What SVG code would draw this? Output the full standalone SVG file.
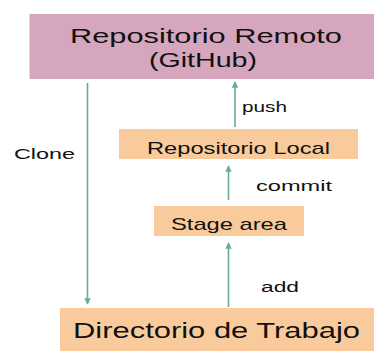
<svg xmlns="http://www.w3.org/2000/svg" width="374" height="351" viewBox="0 0 374 351">
<style>
.t{font-family:"Liberation Sans",Arial,sans-serif;fill:#111;}
.c{stroke:#6aae88;stroke-width:1.6;fill:none;}
.pink{fill:#d5a6bd;}
.org{fill:#f9cb9c;}
</style>
<defs>
<marker id="ah" viewBox="0 0 10 10" refX="9" refY="5" markerWidth="4" markerHeight="4" orient="auto" markerUnits="strokeWidth">
<path d="M0,0 L10,5 L0,10 z" fill="#6aae88"/>
</marker>
</defs>
<rect width="374" height="351" fill="#fff"/>
<g id="remoto">
<rect class="pink" x="29.5" y="14" width="344.5" height="65"/>
<text class="t" x="70" y="42.5" font-size="19.5" textLength="272" lengthAdjust="spacingAndGlyphs">Repositorio Remoto</text>
<text class="t" x="149" y="67" font-size="19.5" textLength="108" lengthAdjust="spacingAndGlyphs">(GitHub)</text>
</g>
<g id="local">
<rect class="org" x="119" y="129" width="239" height="30"/>
<text class="t" x="147" y="154" font-size="17" textLength="183" lengthAdjust="spacingAndGlyphs">Repositorio Local</text>
</g>
<g id="stage">
<rect class="org" x="154" y="206" width="150" height="30"/>
<text class="t" x="171" y="230" font-size="17" textLength="116" lengthAdjust="spacingAndGlyphs">Stage area</text>
</g>
<g id="trabajo">
<rect class="org" x="60" y="308" width="314" height="43"/>
<text class="t" x="73" y="337.5" font-size="21.5" textLength="287" lengthAdjust="spacingAndGlyphs">Directorio de Trabajo</text>
</g>
<g id="connectors">
<line class="c" x1="87.5" y1="83" x2="87.5" y2="304" marker-end="url(#ah)"/>
<line class="c" x1="235" y1="127" x2="235" y2="82" marker-end="url(#ah)"/>
<line class="c" x1="228.5" y1="200" x2="228.5" y2="166" marker-end="url(#ah)"/>
<line class="c" x1="228.5" y1="307" x2="228.5" y2="243" marker-end="url(#ah)"/>
<text class="t" x="14" y="159" font-size="15.5" textLength="61" lengthAdjust="spacingAndGlyphs">Clone</text>
<text class="t" x="242" y="111.5" font-size="15.5" textLength="45" lengthAdjust="spacingAndGlyphs">push</text>
<text class="t" x="256" y="191" font-size="15.5" textLength="76" lengthAdjust="spacingAndGlyphs">commit</text>
<text class="t" x="261" y="292" font-size="15.5" textLength="38" lengthAdjust="spacingAndGlyphs">add</text>
</g>
</svg>
